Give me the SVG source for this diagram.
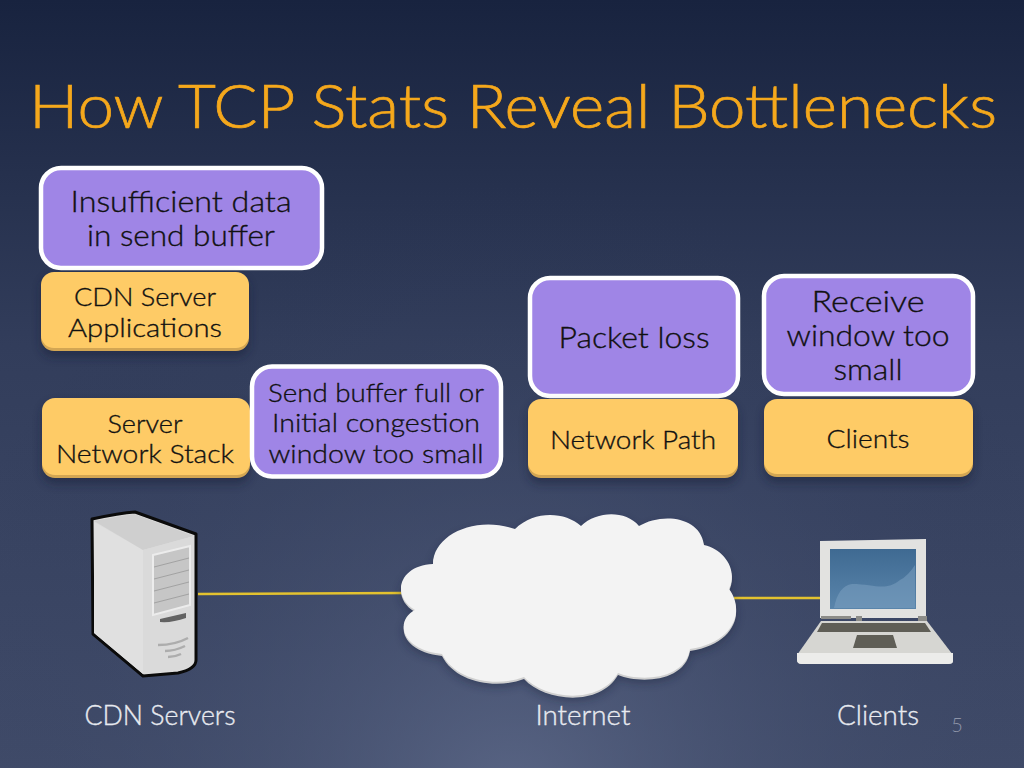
<svg xmlns="http://www.w3.org/2000/svg" width="1024" height="768" viewBox="0 0 1024 768">
<style>
text{font-family:"Lato","Noto Sans","Liberation Sans",sans-serif;font-weight:300;fill:#111;stroke:#111;stroke-width:.35;text-anchor:middle}
.o{fill:#fecb66}
.ow{fill:#d3a653}
.p{fill:#9f85e6;stroke:#fff;stroke-width:4.5}
.sd{fill:#141c36;opacity:.45;filter:url(#sh)}
.t1{font-size:29px}
.t2{font-size:26px}
.lab{font-size:27px;fill:#e8eaf0;stroke:#e8eaf0}
.ln{stroke:#e3c22f;stroke-width:2.5;fill:none}
</style>
<defs>
<linearGradient id="bg" x1="0" y1="0" x2="0" y2="1"><stop offset="0" stop-color="#18233f"/><stop offset=".45" stop-color="#323d5b"/><stop offset="1" stop-color="#414c6a"/></linearGradient>
<radialGradient id="glow" cx="512" cy="800" r="620" gradientUnits="userSpaceOnUse"><stop offset="0" stop-color="#5f6b8b" stop-opacity=".8"/><stop offset="1" stop-color="#2a3553" stop-opacity="0"/></radialGradient>
<linearGradient id="screen" x1="0" y1="0" x2="0" y2="1"><stop offset="0" stop-color="#3f6a92"/><stop offset="1" stop-color="#5a85ab"/></linearGradient>
<filter id="sh" x="-15%" y="-15%" width="130%" height="140%"><feGaussianBlur stdDeviation="5"/></filter>
<path id="cl" d="M433 564C433 535 475 515 515 529C535 510 565 512 581 526C597 511 625 510 639 526C660 513 700 515 704 545C725 550 738 570 729 589C745 610 735 642 690 649C685 680 640 682 618 673C600 705 545 700 524 677C495 688 455 680 442 654C400 650 395 620 415 610C390 595 400 565 433 564Z"/>
</defs>
<rect width="1024" height="768" fill="url(#bg)"/>
<rect width="1024" height="768" fill="url(#glow)"/>
<text x="513" y="128" style="font-size:61px;fill:#f5a81c;stroke:#f5a81c;stroke-width:.7" textLength="968" lengthAdjust="spacingAndGlyphs">How TCP Stats Reveal Bottlenecks</text>

<g id="connectors">
<line class="ln" x1="198" y1="594" x2="404" y2="593"/>
<line class="ln" x1="734" y1="598" x2="828" y2="598"/>
</g>

<g id="node-insufficient">
<rect class="p" x="41" y="168" width="281" height="100" rx="20"/>
<text class="t1" x="181" y="212" textLength="221" lengthAdjust="spacingAndGlyphs">Insufficient data</text>
<text class="t1" x="181" y="246" textLength="188" lengthAdjust="spacingAndGlyphs">in send buffer</text>
</g>
<g id="node-cdn-apps">
<rect class="sd" x="41" y="277" width="208" height="80" rx="13"/>
<rect class="ow" x="41" y="274" width="208" height="77" rx="13"/>
<rect class="o" x="41" y="272" width="208" height="76" rx="13"/>
<text class="t2" x="145" y="306" textLength="142" lengthAdjust="spacingAndGlyphs">CDN Server</text>
<text class="t2" x="145" y="337" textLength="154" lengthAdjust="spacingAndGlyphs">Applications</text>
</g>
<g id="node-server-stack">
<rect class="sd" x="42" y="403" width="208" height="81" rx="13"/>
<rect class="ow" x="42" y="400" width="208" height="78" rx="13"/>
<rect class="o" x="42" y="398" width="208" height="77" rx="13"/>
<text class="t2" x="145" y="433" textLength="75" lengthAdjust="spacingAndGlyphs">Server</text>
<text class="t2" x="145" y="463" textLength="178" lengthAdjust="spacingAndGlyphs">Network Stack</text>
</g>
<g id="node-send-buffer">
<rect class="p" x="252" y="366.500" width="249" height="110" rx="20"/>
<text class="t2" x="376" y="402" textLength="216" lengthAdjust="spacingAndGlyphs">Send buffer full or</text>
<text class="t2" x="376" y="432" textLength="208" lengthAdjust="spacingAndGlyphs">Initial congestion</text>
<text class="t2" x="376" y="463" textLength="215" lengthAdjust="spacingAndGlyphs">window too small</text>
</g>
<g id="node-packet-loss">
<rect class="p" x="530" y="278" width="208" height="118" rx="20"/>
<text class="t1" x="634" y="348" textLength="151" lengthAdjust="spacingAndGlyphs">Packet loss</text>
</g>
<g id="node-network-path">
<rect class="sd" x="528" y="404" width="210" height="80" rx="13"/>
<rect class="ow" x="528" y="401" width="210" height="77" rx="13"/>
<rect class="o" x="528" y="399" width="210" height="76" rx="13"/>
<text class="t2" x="633" y="449" textLength="166" lengthAdjust="spacingAndGlyphs">Network Path</text>
</g>
<g id="node-receive">
<rect class="p" x="764" y="276" width="209" height="118" rx="20"/>
<text class="t1" x="868" y="312" textLength="113" lengthAdjust="spacingAndGlyphs">Receive</text>
<text class="t1" x="868" y="346" textLength="163" lengthAdjust="spacingAndGlyphs">window too</text>
<text class="t1" x="868" y="380" textLength="69" lengthAdjust="spacingAndGlyphs">small</text>
</g>
<g id="node-clients-box">
<rect class="sd" x="764" y="404" width="209" height="79" rx="13"/>
<rect class="ow" x="764" y="401" width="209" height="76" rx="13"/>
<rect class="o" x="764" y="399" width="209" height="75" rx="13"/>
<text class="t2" x="868" y="448" textLength="83" lengthAdjust="spacingAndGlyphs">Clients</text>
</g>

<g id="node-server">
<path d="M92 519Q120 513 135 512L196 534V660Q196 669 178 673L143 676L93 634Z" fill="#dcdcdc" stroke="#0b0b0b" stroke-width="3" stroke-linejoin="round"/>
<path d="M94 522L143 550V674L94 633Z" fill="#e0e0e0"/>
<path d="M94 521Q120 516 134 514L194 536L143 550Z" fill="#cfcfcf"/>
<path d="M143 550L194 536V660Q193 667 176 670L143 674Z" fill="#dadada"/>
<path d="M153 555L190 546V605L153 615Z" fill="#c6c6c6" stroke="#ececec" stroke-width="2"/>
<path d="M154 567L189 558M154 579L189 570M154 591L189 582M154 603L189 594" stroke="#a2a2a2" stroke-width="1" fill="none"/>
<path d="M160 619L186 613V618Q172 623 160 622Z" fill="#626262"/>
<path d="M158 645Q175 645 188 638M165 651Q175 651 185 646M168 657Q175 657 181 654" stroke="#adadad" stroke-width="2.500" fill="none"/>
</g>

<g id="node-cloud">
<use href="#cl" fill="#141c36" opacity=".4" filter="url(#sh)" transform="translate(0 5)"/>
<use href="#cl" fill="#cfcfcf" transform="translate(0 2)"/>
<use href="#cl" fill="#f3f3f3"/>
</g>

<g id="node-laptop">
<path d="M820 541L926 539V618H820Z" fill="#e2e2e0"/>
<rect x="830" y="549" width="86" height="60" fill="url(#screen)"/>
<path d="M834 608Q838 586 852 584C875 584 885 592 900 580Q908 576 915 565V608Z" fill="#7fa3c4" opacity=".5"/>
<rect x="821" y="616" width="30" height="3" fill="#8c8c88"/>
<rect x="856" y="616" width="6" height="5" fill="#8c8c88"/>
<rect x="918" y="616" width="9" height="5" fill="#8c8c88"/>
<path d="M821 621H927L953 655V661Q953 664 948 664H802Q797 664 797 660V655Z" fill="#d6d6d2"/>
<path d="M797 653H953V661Q953 664 948 664H802Q797 664 797 660Z" fill="#ececea"/>
<path d="M822 623H925L931 632H817Z" fill="#5f5e56"/>
<path d="M857 635H893L897 648H853Z" fill="#5f5e56"/>
</g>

<text id="lbl-servers" class="lab" x="160" y="725" textLength="151" lengthAdjust="spacingAndGlyphs">CDN Servers</text>
<text id="lbl-internet" class="lab" x="583" y="725" textLength="95" lengthAdjust="spacingAndGlyphs">Internet</text>
<text id="lbl-clients" class="lab" x="878" y="725" textLength="82" lengthAdjust="spacingAndGlyphs">Clients</text>
<text id="page" x="957" y="732" style="font-size:20px;fill:#8d94a8;stroke:none">5</text>
</svg>
